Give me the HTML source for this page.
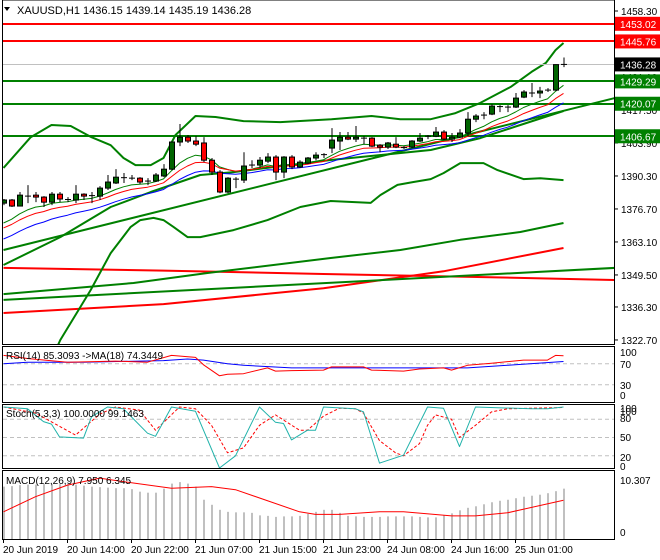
<!DOCTYPE html>
<html><head><meta charset="utf-8"><style>
html,body{margin:0;padding:0;background:#fff;width:660px;height:560px;overflow:hidden}
svg text{font-family:"Liberation Sans",sans-serif;font-size:10px;fill:#000}
svg text.hdr{font-size:11px}
</style></head><body>
<svg id="chart" width="660" height="560" viewBox="0 0 660 560" xmlns="http://www.w3.org/2000/svg">
<defs>
<clipPath id="cMain"><rect x="3" y="0" width="611" height="344"/></clipPath>
<clipPath id="cRsi"><rect x="3" y="347" width="611" height="55"/></clipPath>
<clipPath id="cSto"><rect x="3" y="405" width="611" height="63"/></clipPath>
<clipPath id="cMacd"><rect x="3" y="472" width="611" height="67"/></clipPath>
</defs>
<g id="root"></g>
</svg>
<script>
// ---------- DATA ----------
const opens =[1379.1,1380.4,1377.9,1382.2,1382.4,1381.6,1379.5,1382.8,1380.8,1380.4,1382.8,1382.0,1382.0,1385.3,1387.4,1389.4,1389.6,1389.4,1388.0,1388.2,1390.3,1393.1,1404.3,1406.3,1404.7,1403.9,1396.8,1391.9,1383.7,1389.4,1388.6,1394.4,1394.8,1396.4,1398.1,1391.9,1398.1,1394.0,1395.6,1397.7,1398.9,1401.8,1404.7,1406.3,1405.5,1406.1,1405.9,1403.0,1402.2,1403.4,1402.2,1402.2,1404.7,1406.5,1406.7,1408.4,1405.5,1406.3,1408.0,1413.7,1415.0,1415.8,1419.1,1418.9,1418.7,1422.8,1424.9,1424.5,1425.3,1425.7,1436.15];
const highs =[1380.8,1380.8,1383.7,1386.5,1383.7,1382.0,1383.7,1383.7,1381.6,1386.5,1383.2,1383.7,1386.1,1390.7,1393.1,1391.5,1390.7,1389.8,1389.4,1391.5,1395.2,1404.5,1411.7,1407.2,1406.7,1406.3,1397.7,1392.7,1389.8,1389.8,1400.1,1396.8,1398.1,1399.7,1398.9,1398.5,1398.9,1396.8,1398.1,1400.1,1399.7,1410.0,1408.4,1408.4,1410.9,1406.7,1406.3,1403.4,1404.3,1406.3,1402.6,1405.1,1408.0,1407.2,1410.5,1409.2,1408.0,1409.6,1416.6,1415.8,1416.6,1419.9,1419.5,1419.5,1424.5,1425.7,1428.6,1427.0,1426.5,1436.3,1439.14];
const lows  =[1378.3,1377.5,1377.9,1379.1,1379.5,1377.5,1378.3,1379.5,1379.5,1379.1,1380.4,1379.1,1380.4,1384.5,1387.0,1387.4,1388.6,1387.0,1386.5,1387.8,1389.8,1392.7,1402.6,1403.9,1402.6,1396.0,1390.7,1383.2,1383.2,1385.3,1387.4,1393.6,1393.6,1395.6,1388.6,1389.4,1393.1,1393.6,1395.2,1396.8,1397.7,1399.7,1401.0,1405.1,1404.3,1403.4,1402.2,1400.1,1401.4,1401.8,1401.4,1401.8,1404.3,1405.5,1406.3,1405.1,1404.3,1405.9,1406.7,1412.5,1413.7,1415.4,1416.6,1416.6,1418.3,1422.4,1422.8,1422.4,1424.9,1425.3,1435.19];
const closes=[1380.4,1377.9,1382.4,1382.0,1381.6,1379.5,1382.8,1380.8,1380.6,1382.8,1382.0,1382.2,1385.3,1387.8,1389.8,1389.6,1389.4,1387.8,1388.2,1390.7,1393.1,1404.3,1406.3,1404.7,1403.4,1396.8,1391.9,1383.7,1389.4,1389.0,1394.4,1394.8,1396.8,1398.1,1391.9,1398.1,1394.0,1396.0,1397.7,1398.9,1399.1,1405.1,1406.3,1405.5,1406.3,1405.9,1402.6,1402.2,1403.9,1402.2,1402.0,1404.7,1405.9,1406.7,1408.4,1405.5,1406.3,1408.0,1413.7,1415.0,1415.4,1419.1,1418.9,1418.7,1422.4,1424.9,1424.5,1425.3,1425.7,1436.2,1436.28];

const priceTicks=["1458.30","1444.70","1431.10","1417.50","1403.90","1390.30","1376.70","1363.10","1349.50","1336.30","1322.70"];
const levelPrices=[1453.02,1445.76,1429.29,1420.07,1406.67];
const levelColors=["#ff0000","#ff0000","#008000","#008000","#008000"];
const lastPrice=1436.28;

const upperBBIdx=[0,3.4,6,8.4,11,13.4,15,16.5,18.4,20,21.5,24,26.5,30,34.6,41,46,49.6,53.4,56.5,59.6,63.4,66,67.8,69,70];
const upperBBVal=[1393.6,1406.3,1411.3,1410.9,1406.3,1403.0,1397.7,1394.8,1394.8,1397.7,1407.2,1415.0,1414.6,1412.9,1412.5,1413.7,1415.0,1413.7,1413.7,1416.2,1420.4,1427.0,1433.2,1436.9,1442.2,1445.1];
const lowerBBIdx=[4,7.1,10.9,13.4,15.9,17.1,18.75,20,21.25,23,24.6,28.75,33,37.1,40.9,45.9,47.1,49.25,51.25,53.4,55,57.1,60,61.75,65,67.1,70];
const lowerBBVal=[1300,1322.7,1343.3,1358.5,1369.3,1372.1,1373.0,1372.1,1369.3,1365.1,1365.1,1368.0,1372.1,1377.5,1380.0,1379.2,1382.4,1386.6,1387.8,1389.0,1391.5,1395.6,1395.6,1392.7,1389.0,1389.4,1388.6];
const midMAIdx=[0,7.1,13.4,18.4,24.6,28.75,40.9,53.4,59.6,64.6,70];
const midMAVal=[1353.6,1365.1,1377.5,1383.7,1390.7,1391.9,1396.9,1401.0,1405.9,1411.3,1417.1];
const slowMAIdx=[0,16.25,25.5,40.9,49.6,57.1,64.6,70];
const slowMAVal=[1341.6,1346.2,1350.3,1356.5,1359.8,1364.0,1367.2,1370.9];
const trendIdx=[0,76.4];
const trendVal=[1359.8,1422.4];
const longGreenIdx=[0,76.4];
const longGreenVal=[1339.2,1352.4];
const redFlatIdx=[0,20,40,60,76.4];
const redFlatVal=[1352.4,1351.3,1349.9,1348.6,1347.4];
const redRiseIdx=[0,20,40,55,70];
const redRiseVal=[1333.8,1337.5,1344.0,1351.0,1360.6];
const emaSeeds=[1370.9,1368.9,1364.3];
const emaPeriods=[8,12,18];
const emaColors=["#008000","#ff0000","#0000ff"];

const rsiIdx=[0,3,8,14,18,21,24,25,27,28,30,33,34,36,40,41,45,46,50,52,55,56,58,61,65,68,69,70];
const rsiVal=[86,80,73,75,73,86,82,68,47,50,51,62,56,57,58,64,64,58,56,60,62,58,67,71,77,77,86,85.3];
const rsiMaIdx=[0,3,10,20,23,25,28,30,36,58,63,70];
const rsiMaVal=[70,73,73,76,79,77,70,67,62,62,67,74.3];
const stoMainIdx=[0,3,5,6,7,10,11,13,15,18,19,21,24,27,29,32,34,35,36,38,39,40,44,45,47,50,53,55,57,59,66,68,70];
const stoMainVal=[100,97,76,72,51,49,84,100,97,57,52,100,93,0,20,100,75,73,46,62,62,100,97,92,8,21,100,98,35,100,97,97,100];
const stoSigIdx=[0,4,9,12,14,17,19,22,24,26,28,30,32,34,37,38,40,42,44,45,47,49,50,52,53,54,56,57,59,61,63,70];
const stoSigVal=[100,90,54,88,100,95,62,100,97,70,25,33,70,87,62,62,85,98,97,90,45,25,20,40,70,87,80,50,70,92,97,99.1];
const macdHist=[9.0,9.1,9.3,9.4,9.4,9.5,9.5,9.5,9.5,9.4,9.2,9.0,8.9,8.8,8.7,8.7,8.5,8.0,7.8,7.8,8.6,9.6,9.9,9.6,9.0,6.4,5.4,4.4,4.0,3.9,3.9,3.8,3.3,3.2,3.0,3.1,3.1,3.2,3.6,4.0,4.4,4.4,3.8,3.2,3.1,3.0,3.0,3.0,3.1,3.1,3.1,3.1,3.0,2.9,2.9,3.3,3.7,4.3,4.8,5.1,5.5,5.9,6.2,6.4,6.7,7.0,7.2,7.4,7.7,8.1,8.6];
const macdSigIdx=[0,4,8,12,15,21,26,29,37,39,42,47,50,56,59,63,70];
const macdSigVal=[4.0,7.0,9.3,10.7,10.0,8.7,9.0,8.4,4.0,3.5,3.5,4.0,4.0,3.2,3.2,3.8,6.3];
const timeLabels=["20 Jun 2019","20 Jun 14:00","20 Jun 22:00","21 Jun 07:00","21 Jun 15:00","21 Jun 23:00","24 Jun 08:00","24 Jun 16:00","25 Jun 01:00"];
const timeLabelIdx=[0,8,16,24,32,40,48,56,64];

// ---------- AXES ----------
const NS="http://www.w3.org/2000/svg";
const root=document.getElementById('root');
const xOf=i=>3.5+8*i;
const pY=p=>11+(1458.3-p)*2.426;
const rY=v=>400.5-0.525*v;
const sY=v=>468-0.61*v;
const mY=v=>532-5.04*v;
function el(tag,attrs,parent){const e=document.createElementNS(NS,tag);for(const k in attrs)e.setAttribute(k,attrs[k]);(parent||root).appendChild(e);return e;}
function grp(clip){return el('g',clip?{'clip-path':'url(#'+clip+')'}:{});}
function poly(idx,val,yf,color,w,g,dash){let d='';for(let k=0;k<idx.length;k++)d+=(k?'L':'M')+xOf(idx[k]).toFixed(1)+' '+yf(val[k]).toFixed(1);
 const p=el('path',{d:d,fill:'none',stroke:color,'stroke-width':w,'stroke-linejoin':'round'},g);if(dash)p.setAttribute('stroke-dasharray',dash);return p;}

const panels=[[2.5,0,612,344.5],[2.5,346.5,612,56],[2.5,404.5,612,64],[2.5,470.5,612,69]];
const panelNames=['main-price-panel','rsi-panel','stochastic-panel','macd-panel'];
panels.forEach((r,k)=>{const e=el('rect',{x:r[0],y:r[1],width:r[2],height:r[3],fill:'#fff',stroke:'#000','stroke-width':1});

});

// ---------- MAIN ----------
const gm=grp('cMain');
let ln;
ln=poly(redFlatIdx,redFlatVal,pY,'#ff0000',2,gm);
ln=poly(redRiseIdx,redRiseVal,pY,'#ff0000',2,gm);
ln=poly(longGreenIdx,longGreenVal,pY,'#008000',2,gm);
ln=poly(slowMAIdx,slowMAVal,pY,'#008000',2,gm);
ln=poly(trendIdx,trendVal,pY,'#008000',2,gm);
ln=poly(midMAIdx,midMAVal,pY,'#008000',2,gm);
ln=poly(upperBBIdx,upperBBVal,pY,'#008000',2,gm);
ln=poly(lowerBBIdx,lowerBBVal,pY,'#008000',2,gm);
levelPrices.forEach((p,k)=>{const y=Math.round(pY(p));const l=el('line',{x1:3,x2:614,y1:y,y2:y,stroke:levelColors[k],'stroke-width':2},gm);

});
{const y=Math.round(pY(lastPrice))+0.5;const l=el('line',{x1:3,x2:614,y1:y,y2:y,stroke:'#c0c0c0','stroke-width':1},gm);

}
emaPeriods.forEach((per,k)=>{const a=2/(per+1);let e=emaSeeds[k];const idx=[],val=[];
 for(let i=0;i<closes.length;i++){e=i===0?emaSeeds[k]:e+a*(closes[i]-e);idx.push(i);val.push(e);}
 const p=poly(idx,val,pY,emaColors[k],1,gm);
 
 });
for(let i=0;i<closes.length;i++){
 const x=Math.round(xOf(i));const g=el('g',{},gm);
 
 
 el('line',{x1:x,x2:x,y1:pY(highs[i]),y2:pY(lows[i]),stroke:'#000','stroke-width':1},g);
 const yo=pY(opens[i]),yc=pY(closes[i]);const top=Math.min(yo,yc),h=Math.abs(yo-yc);
 if(h<1.5){el('line',{x1:x-3,x2:x+3,y1:yc,y2:yc,stroke:'#000','stroke-width':1},g);}
 else el('rect',{x:x-2.5,y:top,width:5,height:h,fill:closes[i]>=opens[i]?'#006400':'#ff0000',stroke:'#000','stroke-width':1},g);
}
{const t=el('path',{d:'M4 7 L10 7 L7 11 Z',fill:'#000'});
const h=el('text',{x:17,y:14,'class':'hdr'});h.textContent='XAUUSD,H1  1436.15 1439.14 1435.19 1436.28';}

priceTicks.forEach(s=>{const y=pY(parseFloat(s));el('line',{x1:614,x2:618,y1:y,y2:y,stroke:'#000'});
 const t=el('text',{x:621,y:y+4});t.textContent=s;});
const boxPrices=levelPrices.concat([lastPrice]);const boxColors=levelColors.concat(['#000']);
boxPrices.forEach((p,k)=>{const y=pY(p);const g=el('g',{});
 
 
 el('rect',{x:615,y:y-7,width:45,height:14,fill:boxColors[k]},g);
 const t=el('text',{x:620,y:y+4},g);t.style.fill='#fff';t.textContent=p.toFixed(2);});

// ---------- RSI ----------
const gr=grp('cRsi');
[70,30].forEach(v=>el('line',{x1:3,x2:614,y1:rY(v),y2:rY(v),stroke:'#c0c0c0','stroke-dasharray':'4 3'},gr));
ln=poly(rsiMaIdx,rsiMaVal,rY,'#0000ff',1,gr);
ln=poly(rsiIdx,rsiVal,rY,'#ff0000',1,gr);
{const t=el('text',{x:6,y:359});t.textContent='RSI(14) 85.3093  ->MA(18) 74.3449';}
[[100,356],[70,368],[30,389],[0,399]].forEach(a=>{const t=el('text',{x:620,y:a[1]});t.textContent=a[0];});

// ---------- STOCH ----------
const gs=grp('cSto');
[80,50,20].forEach(v=>el('line',{x1:3,x2:614,y1:sY(v),y2:sY(v),stroke:'#c0c0c0','stroke-dasharray':'4 3'},gs));
ln=poly(stoSigIdx,stoSigVal,sY,'#ff0000',1,gs,'3 2');
ln=poly(stoMainIdx,stoMainVal,sY,'#20b2aa',1,gs);
{const t=el('text',{x:6,y:417});t.textContent='Stoch(5,3,3) 100.0000 99.1463';}
[[100,412],[100,415],[80,422],[50,441],[20,461],[0,470]].forEach(a=>{const t=el('text',{x:620,y:a[1]});t.textContent=a[0];});

// ---------- MACD ----------
const gd=grp('cMacd');
macdHist.forEach((v,i)=>{const b=el('rect',{x:Math.round(xOf(i))-1,y:mY(v),width:2,height:mY(0)-mY(v)+8,fill:'#c0c0c0'},gd);
 
 });
ln=poly(macdSigIdx,macdSigVal,mY,'#ff0000',1,gd);
{const t=el('text',{x:6,y:484});t.textContent='MACD(12,26,9) 7.950 6.345';}
[['10.307',484],['0',536]].forEach(a=>{const t=el('text',{x:620,y:a[1]});t.textContent=a[0];});

// ---------- TIME AXIS ----------
timeLabels.forEach((s,k)=>{const x=xOf(timeLabelIdx[k]);el('line',{x1:x,x2:x,y1:539,y2:543,stroke:'#000'});
 const t=el('text',{x:x-0.5,y:553});t.textContent=s;});
</script>
</body></html>
